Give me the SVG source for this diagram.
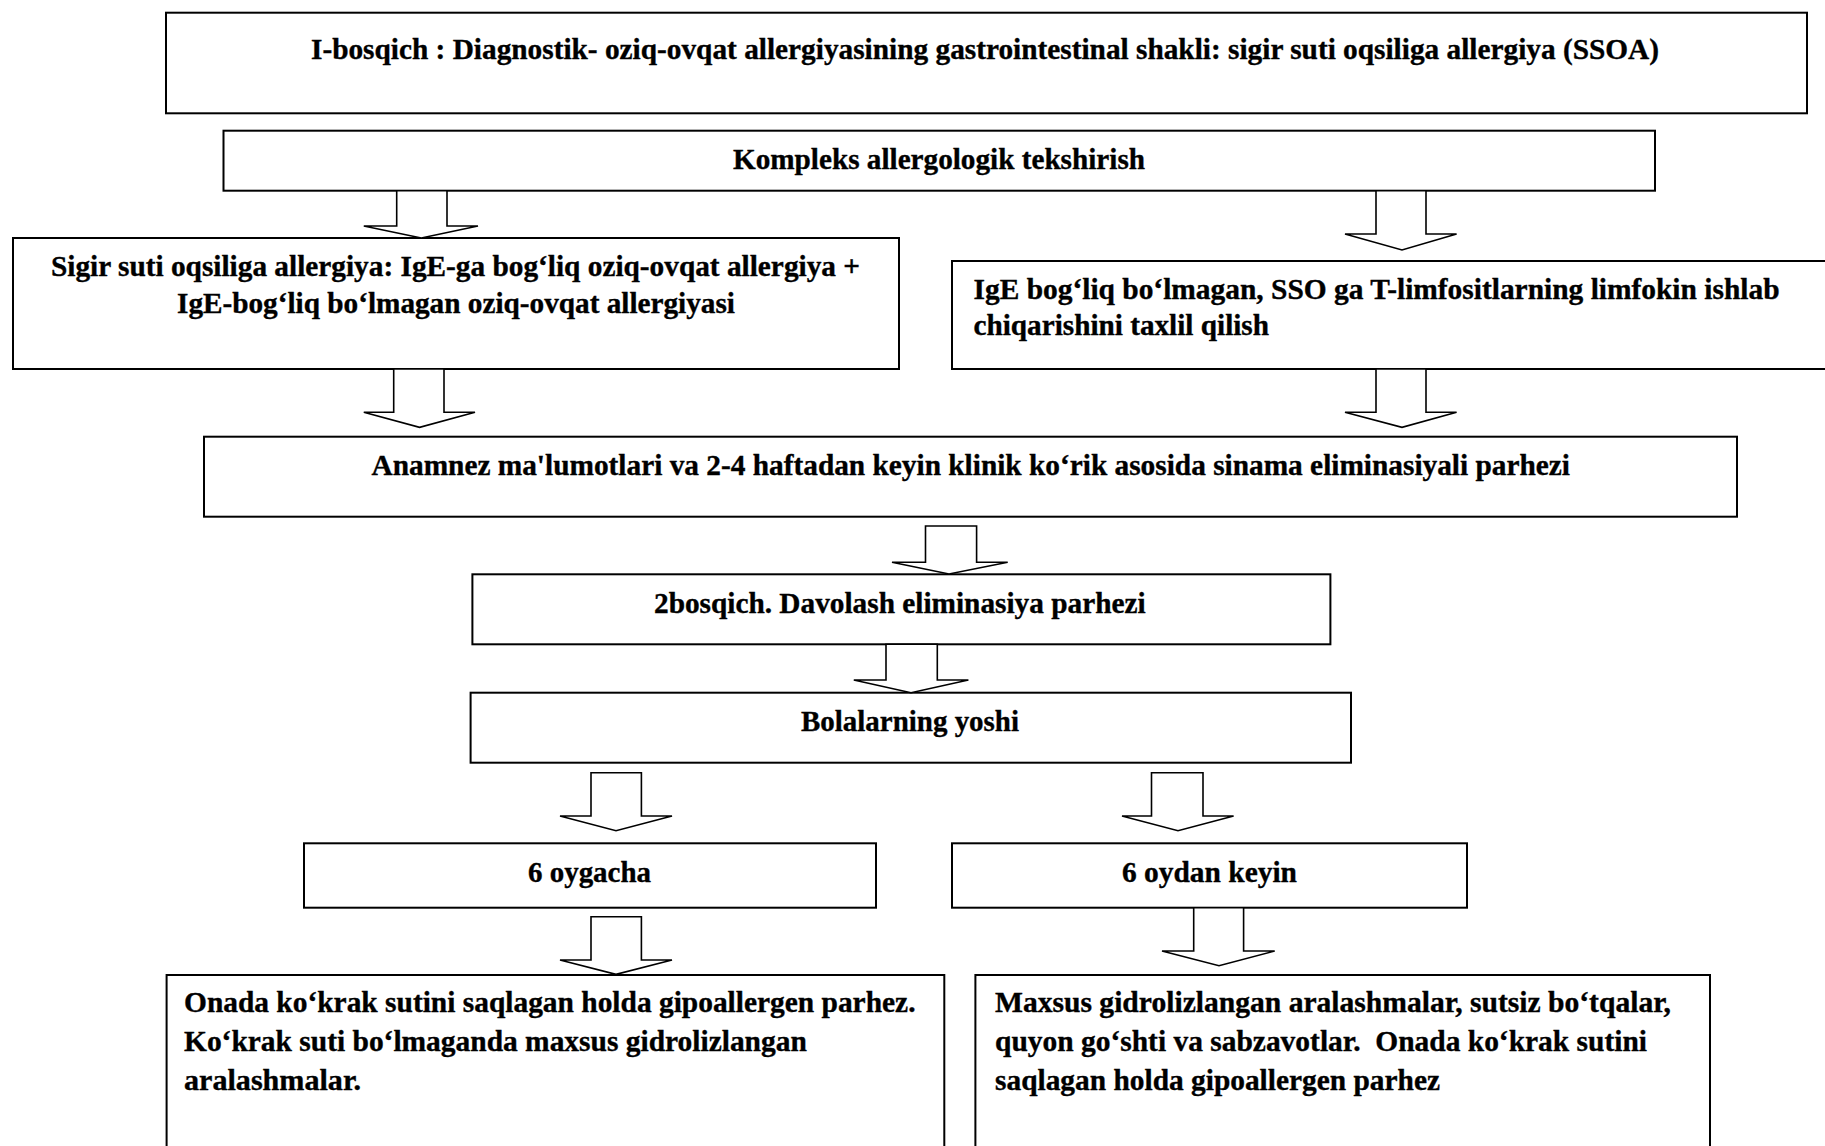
<svg xmlns="http://www.w3.org/2000/svg" width="1825" height="1146" viewBox="0 0 1825 1146">
<style>
.box{fill:#fff;stroke:#000;stroke-width:2}
.arr{fill:#fff;stroke:#000;stroke-width:1.6;stroke-linejoin:miter}
text{font-family:"Liberation Serif","Times New Roman",serif;font-weight:bold;font-size:28.5px;fill:#000;stroke:#000;stroke-width:0.35}
</style>
<rect width="1825" height="1146" fill="#fff"/>
<g id="n1"><rect class="box" x="166" y="12.7" width="1641" height="100.6"/>
<text x="311" y="58.5" textLength="1348" lengthAdjust="spacingAndGlyphs">I-bosqich : Diagnostik- oziq-ovqat allergiyasining gastrointestinal shakli: sigir suti oqsiliga allergiya (SSOA)</text></g>
<g id="n2"><rect class="box" x="223.5" y="130.7" width="1431.5" height="60"/>
<text x="733" y="169" textLength="412" lengthAdjust="spacingAndGlyphs">Kompleks allergologik tekshirish</text></g>
<g id="n3"><rect class="box" x="13" y="238" width="886" height="131"/>
<text x="51" y="276" textLength="809" lengthAdjust="spacingAndGlyphs">Sigir suti oqsiliga allergiya: IgE-ga bog‘liq oziq-ovqat allergiya +</text>
<text x="177" y="313" textLength="558" lengthAdjust="spacingAndGlyphs">IgE-bog‘liq bo‘lmagan oziq-ovqat allergiyasi</text></g>
<g id="n4"><rect class="box" x="952" y="261" width="880" height="108"/>
<text x="973.5" y="299" textLength="806" lengthAdjust="spacingAndGlyphs">IgE bog‘liq bo‘lmagan, SSO ga T-limfositlarning limfokin ishlab</text>
<text x="973.5" y="335" textLength="295.5" lengthAdjust="spacingAndGlyphs">chiqarishini taxlil qilish</text></g>
<g id="n5"><rect class="box" x="204" y="436.7" width="1533" height="80"/>
<text x="371.5" y="474.5" textLength="1198.5" lengthAdjust="spacingAndGlyphs">Anamnez ma'lumotlari va 2-4 haftadan keyin klinik ko‘rik asosida sinama eliminasiyali parhezi</text></g>
<g id="n6"><rect class="box" x="472.4" y="574.3" width="858" height="70"/>
<text x="654" y="613" textLength="491.6" lengthAdjust="spacingAndGlyphs">2bosqich. Davolash eliminasiya parhezi</text></g>
<g id="n7"><rect class="box" x="470.6" y="692.7" width="880.4" height="70"/>
<text x="801" y="730.5" textLength="218" lengthAdjust="spacingAndGlyphs">Bolalarning yoshi</text></g>
<g id="n8"><rect class="box" x="304" y="843.3" width="572" height="64.4"/>
<text x="528" y="881.5" textLength="123" lengthAdjust="spacingAndGlyphs">6 oygacha</text></g>
<g id="n9"><rect class="box" x="952" y="843.3" width="515" height="64.4"/>
<text x="1122" y="881.5" textLength="175" lengthAdjust="spacingAndGlyphs">6 oydan keyin</text></g>
<g id="n10"><rect class="box" x="166.6" y="975" width="777.7" height="200"/>
<text x="184" y="1011.5" textLength="731.5" lengthAdjust="spacingAndGlyphs">Onada ko‘krak sutini saqlagan holda gipoallergen parhez.</text>
<text x="184" y="1051" textLength="622.8" lengthAdjust="spacingAndGlyphs">Ko‘krak suti bo‘lmaganda maxsus gidrolizlangan</text>
<text x="184" y="1090" textLength="177" lengthAdjust="spacingAndGlyphs">aralashmalar.</text></g>
<g id="n11"><rect class="box" x="975.4" y="975" width="734.6" height="200"/>
<text x="995" y="1011.5" textLength="676" lengthAdjust="spacingAndGlyphs">Maxsus gidrolizlangan aralashmalar, sutsiz bo‘tqalar,</text>
<text x="995" y="1051" textLength="652" lengthAdjust="spacingAndGlyphs" xml:space="preserve">quyon go‘shti va sabzavotlar.  Onada ko‘krak sutini</text>
<text x="995" y="1090" textLength="445" lengthAdjust="spacingAndGlyphs">saqlagan holda gipoallergen parhez</text></g>
<g id="connectors">
<polygon class="arr" points="396.7,190.7 447,190.7 447,226 478,226 421.3,238 363.8,226 396.7,226"/>
<polygon class="arr" points="1376,190.7 1426,190.7 1426,234 1456.6,234 1402,250 1345,234 1376,234"/>
<polygon class="arr" points="393.7,369 444,369 444,412.3 475,412.3 419.6,427.3 363.8,412.3 393.7,412.3"/>
<polygon class="arr" points="1376,369 1426,369 1426,412.3 1456.6,412.3 1402,427.3 1345,412.3 1376,412.3"/>
<polygon class="arr" points="925.5,526 976.6,526 976.6,562.3 1007.7,562.3 949,574 892,562.3 925.5,562.3"/>
<polygon class="arr" points="886,644.3 937.3,644.3 937.3,680 968.4,680 911,692.7 853.8,680 886,680"/>
<polygon class="arr" points="591,772.7 641.4,772.7 641.4,816 672,816 616,830.7 560,816 591,816"/>
<polygon class="arr" points="1151.5,772.7 1203,772.7 1203,816 1233.6,816 1178,830.7 1122,816 1151.5,816"/>
<polygon class="arr" points="591,916.7 641.4,916.7 641.4,960 672,960 616,974.3 560,960 591,960"/>
<polygon class="arr" points="1193.7,907.7 1243.6,907.7 1243.6,951 1274.7,951 1219,965.7 1162,951 1193.7,951"/>
</g>
</svg>
